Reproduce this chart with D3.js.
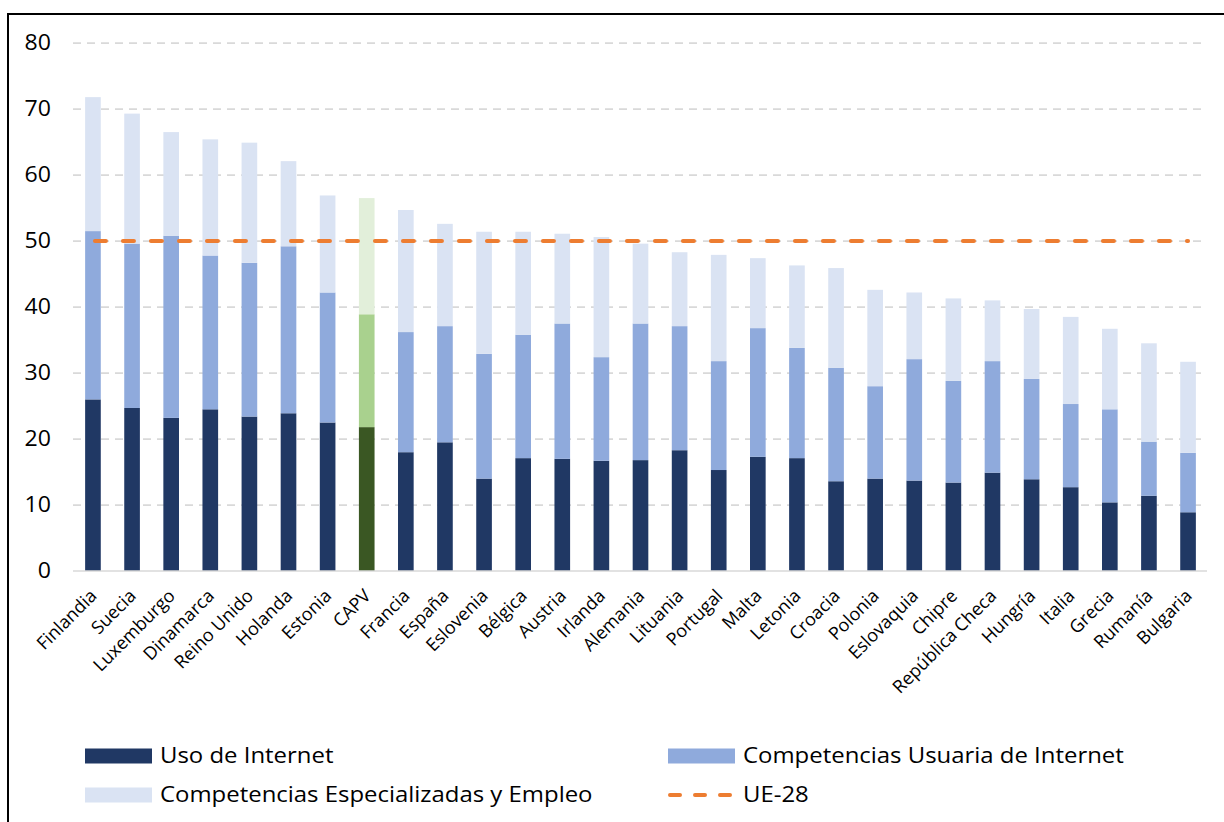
<!DOCTYPE html>
<html>
<head>
<meta charset="utf-8">
<script src="https://cdn.jsdelivr.net/npm/d3@7"></script>
<style>
  html, body { margin: 0; padding: 0; background: #fff; }
  svg { display: block; font-family: "Open Sans", "Noto Sans", sans-serif; }
</style>
</head>
<body>
<svg id="chart" width="1224" height="822"></svg>
<script>
// Países ordenados por índice total
const paises = ["Finlandia","Suecia","Luxemburgo","Dinamarca","Reino Unido","Holanda","Estonia","CAPV",
  "Francia","España","Eslovenia","Bélgica","Austria","Irlanda","Alemania","Lituania","Portugal","Malta",
  "Letonia","Croacia","Polonia","Eslovaquia","Chipre","República Checa","Hungría","Italia","Grecia",
  "Rumanía","Bulgaria"];

// Componentes apilados
const usoInternet = [26.0,24.7,23.2,24.5,23.4,23.9,22.5,21.8,18.0,19.5,14.0,17.1,17.0,16.7,16.8,18.3,15.3,17.3,
  17.1,13.6,14.0,13.7,13.4,14.9,13.9,12.7,10.4,11.4,8.9];
const competenciasUsuaria = [25.5,24.9,27.6,23.3,23.3,25.3,19.7,17.1,18.2,17.6,18.9,18.7,20.5,15.7,20.7,18.8,16.5,19.5,
  16.7,17.2,14.0,18.4,15.4,16.9,15.2,12.6,14.1,8.2,9.0];
const competenciasEspecializadas = [20.3,19.7,15.7,17.6,18.2,12.9,14.7,17.6,18.5,15.5,18.5,15.6,13.6,18.2,12.1,11.2,16.1,10.6,
  12.5,15.1,14.6,10.1,12.5,9.2,10.6,13.2,12.2,14.9,13.8];

const mediaUE = 50;
const yTicks = [0,10,20,30,40,50,60,70,80];

const serieNombres = ["Uso de Internet","Competencias Usuaria de Internet","Competencias Especializadas y Empleo"];
const coloresAzul = ["#203864","#8FAADC","#DAE3F3"];
const coloresVerde = ["#3A5723","#A9D18E","#E2EFDA"];
const naranja = "#ED7D31";

const svg = d3.select("#chart");

// Marco exterior
svg.append("rect")
  .attr("x", 8).attr("y", 14).attr("width", 1240).attr("height", 840)
  .attr("fill", "none").attr("stroke", "#000").attr("stroke-width", 2);

const x = d3.scaleBand().domain(paises).range([73.4, 1207.6]).paddingInner(0.6).paddingOuter(0.3);
const y = d3.scaleLinear().domain([0, 80]).range([571, 43]);

// Líneas de cuadrícula
svg.append("g").selectAll("line").data(yTicks.filter(t => t > 0)).join("line")
  .attr("x1", 73).attr("x2", 1207)
  .attr("y1", d => y(d)).attr("y2", d => y(d))
  .attr("stroke", "#D9D9D9").attr("stroke-width", 1.75).attr("stroke-dasharray", "8,6");

// Etiquetas del eje Y (texto ligeramente ensanchado)
const yAxis = d3.axisLeft(y).tickValues(yTicks).tickSize(0).tickPadding(0);
const gy = svg.append("g").attr("transform", "translate(51,0)").call(yAxis);
gy.select(".domain").remove();
gy.selectAll("text").attr("font-size", 21).attr("fill", "#000")
  .attr("font-family", "'Open Sans', sans-serif")
  .attr("transform", "scale(1.1,1)");

// Datos apilados
const tabla = paises.map((p, i) => ({
  pais: p,
  s0: usoInternet[i],
  s1: competenciasUsuaria[i],
  s2: competenciasEspecializadas[i]
}));
const stack = d3.stack().keys(["s0","s1","s2"]);
const capas = stack(tabla);

const barras = svg.append("g");
capas.forEach((capa, k) => {
  barras.append("g").selectAll("rect").data(capa).join("rect")
    .attr("x", d => x(d.data.pais))
    .attr("width", x.bandwidth())
    .attr("y", d => y(d[1]))
    .attr("height", d => y(d[0]) - y(d[1]))
    .attr("fill", d => d.data.pais === "CAPV" ? coloresVerde[k] : coloresAzul[k]);
});

// Línea base
svg.append("line")
  .attr("x1", 73).attr("x2", 1207).attr("y1", y(0)).attr("y2", y(0))
  .attr("stroke", "#D9D9D9").attr("stroke-width", 1.5);

// Media UE-28
const xIni = x(paises[0]) + x.bandwidth() / 2;
const xFin = x(paises[paises.length - 1]) + x.bandwidth() / 2;
svg.append("line")
  .attr("x1", xIni).attr("x2", xFin).attr("y1", y(mediaUE)).attr("y2", y(mediaUE))
  .attr("stroke", naranja).attr("stroke-width", 4).attr("stroke-linecap", "round")
  .attr("stroke-dasharray", "11,17").attr("stroke-dashoffset", -2);

// Etiquetas del eje X
const xAxis = d3.axisBottom(x).tickSize(0).tickPadding(0);
const gx = svg.append("g").attr("transform", `translate(0,${y(0)})`).call(xAxis);
gx.select(".domain").remove();
gx.selectAll("text")
  .attr("font-size", 18).attr("fill", "#000")
  .attr("font-family", "'Open Sans', sans-serif")
  .attr("text-anchor", "end")
  .attr("dy", 0)
  .attr("transform", "translate(5,26) rotate(-45)");

// Leyenda
const leyenda = svg.append("g").attr("font-size", 21).attr("fill", "#000");
const items = [
  {tipo: "rect", color: coloresAzul[0], texto: serieNombres[0], x: 85, y: 756},
  {tipo: "rect", color: coloresAzul[1], texto: serieNombres[1], x: 668, y: 756},
  {tipo: "rect", color: coloresAzul[2], texto: serieNombres[2], x: 85, y: 795},
  {tipo: "line", color: naranja, texto: "UE-28", x: 668, y: 795}
];
items.forEach(it => {
  if (it.tipo === "rect") {
    leyenda.append("rect").attr("x", it.x).attr("y", it.y - 7.5).attr("width", 67).attr("height", 15).attr("fill", it.color);
  } else {
    leyenda.append("line").attr("x1", it.x + 2).attr("x2", it.x + 67).attr("y1", it.y).attr("y2", it.y)
      .attr("stroke", it.color).attr("stroke-width", 4).attr("stroke-linecap", "round").attr("stroke-dasharray", "10,15");
  }
  leyenda.append("text")
    .attr("transform", `translate(${it.x + 75},${it.y}) scale(1.14,1)`)
    .attr("dy", "0.35em").text(it.texto);
});
</script>
</body>
</html>
